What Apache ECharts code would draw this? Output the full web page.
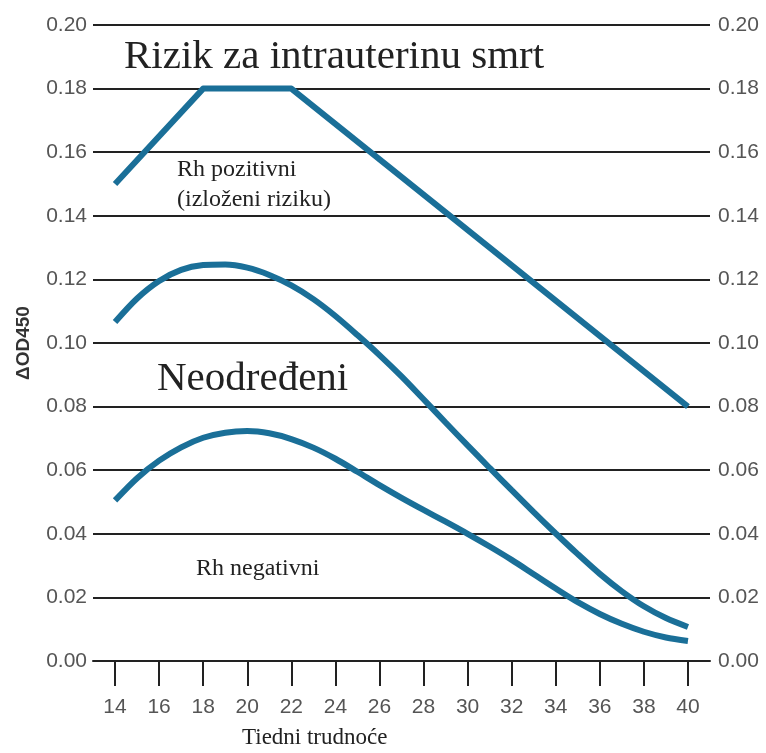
<!DOCTYPE html>
<html>
<head>
<meta charset="utf-8">
<script src="https://cdn.jsdelivr.net/npm/echarts@6/dist/echarts.min.js"></script>
<style>
  html, body { margin: 0; padding: 0; background: #fff; }
  #chart { width: 766px; height: 753px; }
</style>
</head>
<body>
<div id="chart"></div>
<script>
// weeks of pregnancy on the x axis
const weeks = [14, 15, 16, 17, 18, 19, 20, 21, 22, 23, 24, 25, 26, 27,
               28, 29, 30, 31, 32, 33, 34, 35, 36, 37, 38, 39, 40]
const weekTicks = [14, 16, 18, 20, 22, 24, 26, 28, 30, 32, 34, 36, 38, 40]

// upper zone boundary (straight segments)
const riskWeeks  = [14, 18, 22, 40]
const riskValues = [0.150, 0.180, 0.180, 0.080]

// middle boundary (Neodređeni)
const midValues = [0.1066, 0.1140, 0.1195, 0.1230, 0.1245, 0.1247, 0.1237, 0.1214, 0.1181,
                   0.1138, 0.1085, 0.1025, 0.0962, 0.0895, 0.0823, 0.0750, 0.0678, 0.0607,
                   0.0537, 0.0468, 0.0401, 0.0336, 0.0274, 0.0219, 0.0172, 0.0135, 0.0107]

// lower boundary (Rh negativni)
const lowValues = [0.0505, 0.0575, 0.0630, 0.0672, 0.0702, 0.0718, 0.0723, 0.0716, 0.0698,
                   0.0671, 0.0636, 0.0595, 0.0553, 0.0513, 0.0475, 0.0438, 0.0400, 0.0360,
                   0.0318, 0.0273, 0.0228, 0.0185, 0.0148, 0.0117, 0.0092, 0.0074, 0.0063]

const LINE = '#1a6f98'
const INK = '#222'
const LABEL = { color: '#555', fontFamily: 'Liberation Sans', fontSize: 21 }
const SERIF = '"Liberation Serif", "DejaVu Serif", serif'

const pair = (xs, ys) => xs.map((x, i) => [x, ys[i]])

const chart = echarts.init(document.getElementById('chart'), null, { renderer: 'canvas' })

const yAxisBase = {
  type: 'value', min: 0, max: 0.2, interval: 0.02,
  axisLine: { show: false },
  axisTick: { show: false },
  axisLabel: { ...LABEL, margin: 6, formatter: v => v.toFixed(2) },
}

chart.setOption({
  animation: false,
  backgroundColor: '#fff',
  grid: { left: 93, right: 56, top: 25, bottom: 92, containLabel: false, outerBoundsMode: 'none' },
  xAxis: {
    type: 'value', min: 13, max: 41,
    axisLine: { show: true, lineStyle: { color: INK, width: 2 } },
    axisTick: { show: true, customValues: weekTicks, length: 25, lineStyle: { color: INK, width: 2 } },
    axisLabel: { ...LABEL, customValues: weekTicks, margin: 36 },
    splitLine: { show: false },
  },
  yAxis: [
    { ...yAxisBase, position: 'left',
      name: 'ΔOD450', nameLocation: 'middle', nameGap: 60, nameRotate: 90,
      nameTextStyle: { color: '#333', fontFamily: 'Liberation Sans', fontSize: 19, fontWeight: 'bold' },
      splitLine: { show: true, lineStyle: { color: INK, width: 2 } } },
    { ...yAxisBase, position: 'right', splitLine: { show: false },
      axisLabel: { ...yAxisBase.axisLabel, margin: 8 } },
  ],
  series: [
    { name: 'Rizik', type: 'line', data: pair(riskWeeks, riskValues), showSymbol: false,
      lineStyle: { color: LINE, width: 6, cap: 'butt', join: 'round' } },
    { name: 'Neodređeni', type: 'line', data: pair(weeks, midValues), showSymbol: false, smooth: 0.3,
      lineStyle: { color: LINE, width: 6, cap: 'butt' } },
    { name: 'Rh negativni', type: 'line', data: pair(weeks, lowValues), showSymbol: false, smooth: 0.3,
      lineStyle: { color: LINE, width: 6, cap: 'butt' } },
  ],
  graphic: [
    { type: 'text', left: 124, top: 37, style: { text: 'Rizik za intrauterinu smrt', font: `41px ${SERIF}`, fill: INK } },
    { type: 'text', left: 157, top: 359, style: { text: 'Neodređeni', font: `41px ${SERIF}`, fill: INK } },
    { type: 'text', left: 177, top: 158, style: { text: 'Rh pozitivni', font: `24px ${SERIF}`, fill: INK } },
    { type: 'text', left: 177, top: 188, style: { text: '(izloženi riziku)', font: `24px ${SERIF}`, fill: INK } },
    { type: 'text', left: 196, top: 557, style: { text: 'Rh negativni', font: `24px ${SERIF}`, fill: INK } },
    { type: 'text', left: 242, top: 726, style: { text: 'Tiedni trudnoće', font: `23px ${SERIF}`, fill: INK } },
  ],
})
</script>
</body>
</html>
